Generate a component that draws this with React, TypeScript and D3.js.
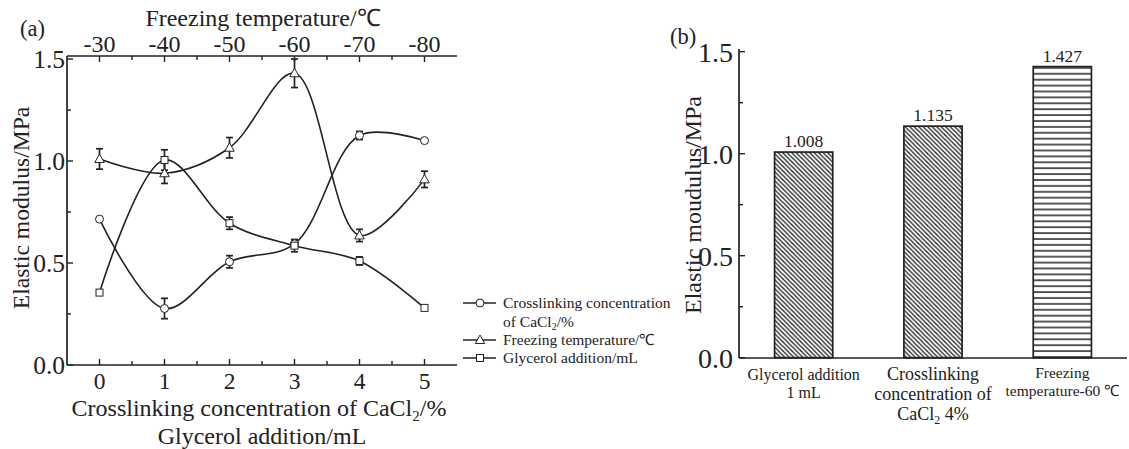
import * as d3 from "d3";

// panel (a): x positions shared by both bottom and top axes
const xCats = [0, 1, 2, 3, 4, 5];
const topTickLabels = ["-30", "-40", "-50", "-60", "-70", "-80"];
const yTicks = [0, 0.5, 1.0, 1.5];

// series (MPa) + error bars
const crosslinking = [0.715, 0.277, 0.506, 0.594, 1.125, 1.1];
const crosslinkingErr = [0.01, 0.05, 0.03, 0.02, 0.02, 0.01];
const freezing = [1.01, 0.94, 1.065, 1.43, 0.635, 0.91];
const freezingErr = [0.05, 0.05, 0.05, 0.07, 0.03, 0.04];
const glycerol = [0.355, 1.005, 0.695, 0.585, 0.51, 0.28];
const glycerolErr = [0.01, 0.05, 0.03, 0.03, 0.02, 0.01];

// panel (b)
const barCats = ["glycerol", "crosslinking", "freezing"];
const barValues = [1.008, 1.135, 1.427];

const FONT = "'Liberation Serif', 'Times New Roman', serif";
const INK = "#222";

type Marker = "circle" | "triangle" | "square";

function MarkerShape({ kind, x, y }: { kind: Marker; x: number; y: number }) {
  if (kind === "circle") return <circle cx={x} cy={y} r={4} fill="#fff" stroke={INK} strokeWidth={1} />;
  if (kind === "square") return <rect x={x - 3.5} y={y - 3.5} width={7} height={7} fill="#fff" stroke={INK} strokeWidth={1} />;
  const s = 5;
  return (
    <path
      d={`M${x},${y - s} L${x + s * 0.95},${y + s * 0.7} L${x - s * 0.95},${y + s * 0.7} Z`}
      fill="#fff"
      stroke={INK}
      strokeWidth={1}
    />
  );
}

export default function App() {
  // ---------- panel (a) ----------
  const xA = d3.scaleLinear().domain([-0.5, 5.5]).range([67, 457]);
  const yA = d3.scaleLinear().domain([0, 1.5]).range([365, 59]);
  const line = d3
    .line<number>()
    .x((_, i) => xA(xCats[i]))
    .y((d) => yA(d))
    .curve(d3.curveCatmullRom.alpha(0.5));

  const series: { vals: number[]; err: number[]; kind: Marker }[] = [
    { vals: crosslinking, err: crosslinkingErr, kind: "circle" },
    { vals: freezing, err: freezingErr, kind: "triangle" },
    { vals: glycerol, err: glycerolErr, kind: "square" },
  ];

  const minorX = d3.range(-0.5, 5.51, 0.5).filter((v) => v > -0.5 && v < 5.5);
  const minorY = d3.range(0, 1.51, 0.25);

  // ---------- panel (b) ----------
  const xB = d3.scaleBand<string>().domain(barCats).range([739, 1127]).paddingInner(0.55).paddingOuter(0.275);
  const yB = d3.scaleLinear().domain([0, 1.5]).range([357.7, 51.7]);
  const patterns = ["url(#diag)", "url(#diag)", "url(#horiz)"];
  const cx = (c: string) => xB(c)! + xB.bandwidth() / 2;

  return (
    <svg
      width={1129}
      height={449}
      style={{ position: "absolute", left: 0, top: 0, background: "#fff", fontFamily: FONT }}
    >
      <defs>
        <pattern id="diag" patternUnits="userSpaceOnUse" width={4.5} height={4.5}>
          <path d="M0,0 L4.5,4.5 M-1,3.5 L1,5.5 M3.5,-1 L5.5,1" stroke={INK} strokeWidth={1.3} />
        </pattern>
        <pattern id="horiz" patternUnits="userSpaceOnUse" width={8} height={5.9}>
          <line x1={0} x2={8} y1={3} y2={3} stroke={INK} strokeWidth={1.5} />
        </pattern>
      </defs>
      <rect width={1129} height={449} fill="#fff" />

      {/* ===== panel (a) ===== */}
      <text x={20} y={36} fontSize={22.5} fill={INK}>(a)</text>

      <g stroke={INK} strokeWidth={1.7} fill="none">
        <line x1={67} x2={67} y1={56} y2={365} />
        <line x1={67} x2={457} y1={365} y2={365} />
        <line x1={67} x2={457} y1={56} y2={56} />
      </g>

      <g stroke={INK} strokeWidth={1.4}>
        {minorX.map((v) => {
          const len = Number.isInteger(v) ? 6 : 4;
          return (
            <g key={v}>
              <line x1={xA(v)} x2={xA(v)} y1={365} y2={365 - len} />
              <line x1={xA(v)} x2={xA(v)} y1={56} y2={56 + len} />
            </g>
          );
        })}
        {minorY.map((v) => (
          <line key={v} x1={67} x2={67 + (v % 0.5 === 0 ? 6 : 4)} y1={yA(v)} y2={yA(v)} />
        ))}
      </g>

      <g fontSize={25.5} fill={INK}>
        {yTicks.map((v) => (
          <text key={v} x={65} y={yA(v)} dy="0.35em" textAnchor="end">
            {v.toFixed(1)}
          </text>
        ))}
      </g>
      <g fontSize={23.5} fill={INK} textAnchor="middle">
        {xCats.map((v) => (
          <text key={v} x={xA(v)} y={389}>
            {v}
          </text>
        ))}
      </g>
      <g fontSize={24} fill={INK} textAnchor="middle">
        {xCats.map((v, i) => (
          <text key={"t" + v} x={xA(v)} y={52}>
            {topTickLabels[i]}
          </text>
        ))}
      </g>

      <text x={263} y={26} fontSize={24} textAnchor="middle" fill={INK}>
        Freezing temperature/℃
      </text>
      <text x={259} y={416} fontSize={24} textAnchor="middle" fill={INK}>
        Crosslinking concentration of CaCl<tspan fontSize={15} dy={5}>2</tspan>
        <tspan dy={-5}>/%</tspan>
      </text>
      <text x={262} y={444} fontSize={24} textAnchor="middle" fill={INK}>
        Glycerol addition/mL
      </text>
      <text transform="translate(29,208) rotate(-90)" fontSize={23.6} textAnchor="middle" fill={INK}>
        Elastic modulus/MPa
      </text>

      {series.map((s, si) => (
        <path key={si} d={line(s.vals) ?? ""} fill="none" stroke={INK} strokeWidth={1.6} />
      ))}
      <g stroke={INK} strokeWidth={1.7}>
        {series.map((s, si) =>
          s.vals.map((v, i) => {
            const px = xA(xCats[i]);
            const y1 = yA(v + s.err[i]);
            const y2 = yA(v - s.err[i]);
            return (
              <g key={si + "-" + i}>
                <line x1={px} x2={px} y1={y1} y2={y2} />
                <line x1={px - 3.5} x2={px + 3.5} y1={y1} y2={y1} />
                <line x1={px - 3.5} x2={px + 3.5} y1={y2} y2={y2} />
              </g>
            );
          })
        )}
      </g>
      {series.map((s, si) =>
        s.vals.map((v, i) => <MarkerShape key={si + "m" + i} kind={s.kind} x={xA(xCats[i])} y={yA(v)} />)
      )}

      {/* legend */}
      <g fontSize={15.5} fill={INK}>
        {[
          { kind: "circle" as Marker, y: 303 },
          { kind: "triangle" as Marker, y: 340 },
          { kind: "square" as Marker, y: 358 },
        ].map((l) => (
          <g key={l.kind}>
            <line x1={463} x2={496} y1={l.y} y2={l.y} stroke={INK} strokeWidth={1.4} />
            <MarkerShape kind={l.kind} x={480} y={l.y} />
          </g>
        ))}
        <text x={503} y={308}>Crosslinking concentration</text>
        <text x={503} y={327}>
          of CaCl<tspan fontSize={10} dy={3}>2</tspan>
          <tspan dy={-3}>/%</tspan>
        </text>
        <text x={503} y={345}>Freezing temperature/℃</text>
        <text x={503} y={362.5}>Glycerol addition/mL</text>
      </g>

      {/* ===== panel (b) ===== */}
      <text x={670} y={44} fontSize={22.5} fill={INK}>(b)</text>

      {barCats.map((c, i) => (
        <rect
          key={c}
          x={xB(c)}
          y={yB(barValues[i])}
          width={xB.bandwidth()}
          height={yB(0) - yB(barValues[i])}
          fill={patterns[i]}
          stroke={INK}
          strokeWidth={1.7}
        />
      ))}
      <g fontSize={17.5} fill={INK} textAnchor="middle">
        {barCats.map((c, i) => (
          <text key={c} x={cx(c)} y={yB(barValues[i]) - 5}>
            {barValues[i].toFixed(3)}
          </text>
        ))}
      </g>

      <g stroke={INK} strokeWidth={1.7}>
        <line x1={739} x2={739} y1={49} y2={358} />
        <line x1={739} x2={1127} y1={358} y2={358} />
      </g>
      <g stroke={INK} strokeWidth={1.4}>
        {minorY.map((v) => (
          <line key={v} x1={739} x2={739 + (v % 0.5 === 0 ? 6 : 4)} y1={yB(v)} y2={yB(v)} />
        ))}
      </g>
      <g fontSize={28} fill={INK}>
        {yTicks.map((v) => (
          <text key={v} x={733} y={yB(v)} dy="0.35em" textAnchor="end">
            {v.toFixed(1)}
          </text>
        ))}
      </g>
      <text transform="translate(701,205) rotate(-90)" fontSize={24} textAnchor="middle" fill={INK}>
        Elastic moudulus/MPa
      </text>

      <g fill={INK} textAnchor="middle">
        <text x={cx("glycerol")} y={380} fontSize={16}>
          <tspan>Glycerol addition</tspan>
          <tspan x={cx("glycerol")} dy={18}>1 mL</tspan>
        </text>
        <text x={cx("crosslinking")} y={380} fontSize={18}>
          <tspan>Crosslinking</tspan>
          <tspan x={cx("crosslinking")} dy={20}>concentration of</tspan>
        </text>
        <text x={cx("crosslinking")} y={420} fontSize={18}>
          CaCl<tspan fontSize={12} dy={4}>2</tspan>
          <tspan dy={-4}> 4%</tspan>
        </text>
        <text x={cx("freezing")} y={378} fontSize={15.5}>
          <tspan>Freezing</tspan>
          <tspan x={cx("freezing")} dy={18}>temperature-60 ℃</tspan>
        </text>
      </g>
    </svg>
  );
}
